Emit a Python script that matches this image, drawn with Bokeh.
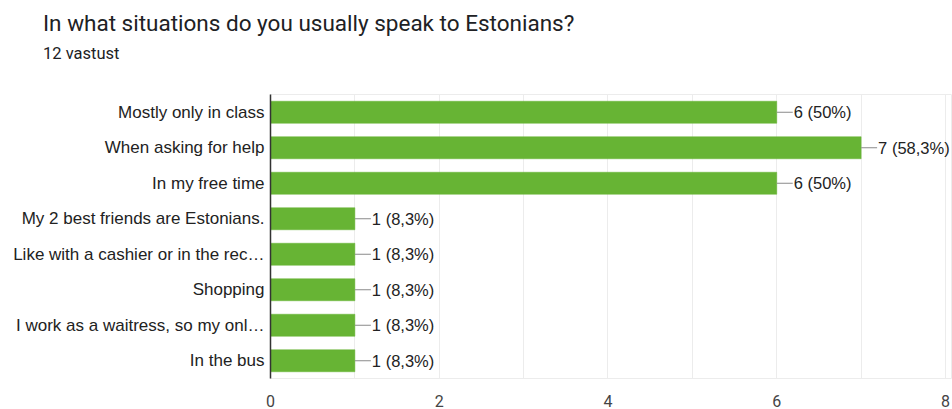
from bokeh.plotting import figure
from bokeh.layouts import column
from bokeh.models import Div, FactorRange, Range1d, FixedTicker, ColumnDataSource
from bokeh.embed import file_html
from bokeh.resources import INLINE
from bokeh.core.properties import value

title = "In what situations do you usually speak to Estonians?"
subtitle = "12 vastust"
categories = [
    "Mostly only in class",
    "When asking for help",
    "In my free time",
    "My 2 best friends are Estonians.",
    "Like with a cashier or in the rec\u2026",
    "Shopping",
    "I work as a waitress, so my onl\u2026",
    "In the bus",
]
counts = [6, 7, 6, 1, 1, 1, 1, 1]
labels = ["6 (50%)", "7 (58,3%)", "6 (50%)", "1 (8,3%)", "1 (8,3%)", "1 (8,3%)", "1 (8,3%)", "1 (8,3%)"]
x_ticks = [0, 2, 4, 6, 8]

# ---- header (title + subtitle) ----
HEADER_H = 80
header_html = (
    '<div style="position:relative;width:952px;height:%dpx;font-family:Roboto;color:#202124;">'
    '<div style="position:absolute;left:43px;top:12px;font-size:22.5px;line-height:1;white-space:nowrap;">%s</div>'
    '<div style="position:absolute;left:43px;top:46px;font-size:16.5px;line-height:1;white-space:nowrap;">%s</div>'
    '</div>' % (HEADER_H, title, subtitle)
)
head = Div(text=header_html, width=952, height=HEADER_H, margin=0)

# ---- chart ----
src = ColumnDataSource(dict(cat=categories, val=counts, lab=labels))

p = figure(width=952, height=409 - HEADER_H, output_backend="svg", toolbar_location=None,
           y_range=FactorRange(factors=list(reversed(categories))),
           x_range=Range1d(0, 8.083),
           min_border_left=270, min_border_right=0, min_border_top=94 - HEADER_H,
           min_border_bottom=27)
p.title = None
p.background_fill_color = "white"
p.border_fill_color = "white"
p.outline_line_color = "#ececec"

p.hbar(y="cat", right="val", left=0, height=0.62, source=src,
       fill_color="#67b434", line_color="#67b434", line_width=0.5)
p.ray(x="val", y="cat", length=16, length_units="screen", angle=0, source=src,
      line_color="#8a8a8a", line_width=1)
p.text(x="val", y="cat", text="lab", source=src, x_offset=17,
       text_baseline="middle", text_align="left",
       text_font=value("Liberation Sans"), text_font_size="16.5px", text_color="#222222")

# x axis
p.xaxis.ticker = FixedTicker(ticks=x_ticks, minor_ticks=list(range(0, 9)))
p.xaxis.axis_line_color = None
p.xaxis.major_tick_line_color = None
p.xaxis.minor_tick_line_color = None
p.xaxis.major_label_text_font = "Roboto"
p.xaxis.major_label_text_font_size = "16px"
p.xaxis.major_label_text_color = "#444444"
p.xaxis.major_label_standoff = 10
p.xgrid.grid_line_color = "#ececec"
p.xgrid.minor_grid_line_color = "#ececec"
p.ygrid.grid_line_color = None

# y axis
p.yaxis.axis_line_color = "#333333"
p.yaxis.axis_line_width = 1.5
p.yaxis.major_tick_line_color = None
p.yaxis.minor_tick_line_color = None
p.yaxis.major_label_text_font = "Liberation Sans"
p.yaxis.major_label_text_font_size = "17px"
p.yaxis.major_label_text_color = "#222222"
p.yaxis.major_label_standoff = 0

layout = column(head, p, spacing=0)
open("out.html", "w").write(file_html(layout, INLINE))
